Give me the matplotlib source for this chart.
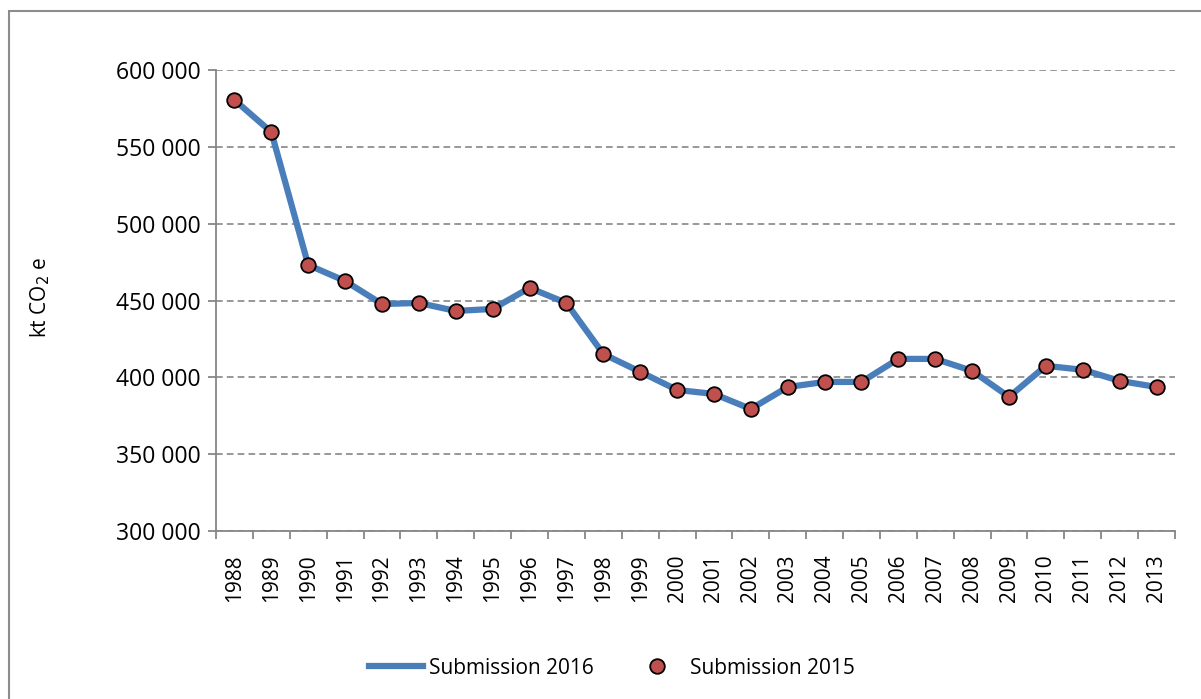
import numpy as np
import matplotlib.pyplot as plt
from matplotlib.patches import Rectangle
from matplotlib.lines import Line2D
from matplotlib.ticker import FuncFormatter

plt.rcParams['font.family'] = ['Open Sans', 'DejaVu Sans']

years = list(range(1988, 2014))
sub_2016 = [580500, 559600, 473100, 462700, 447700, 448400, 443200, 444500,
            458200, 448400, 415200, 403600, 391800, 389200, 379400, 393700,
            397000, 397000, 412000, 412000, 404200, 387300, 407500, 404900,
            397700, 393700]
sub_2015 = [580500, 559600, 473100, 462700, 447700, 448400, 443200, 444500,
            458200, 448400, 415200, 403600, 391800, 389200, 379400, 393700,
            397000, 397000, 412000, 412000, 404200, 387300, 407500, 404900,
            397700, 393700]

W, H = 1201, 699
fig = plt.figure(figsize=(W / 100, H / 100), dpi=100)
fig.patch.set_facecolor('white')

# outer chart frame (open at right and bottom edges)
fig.patches.append(Rectangle((9 / W, -0.1), 1.2, 1 - 11 / H + 0.1,
                             transform=fig.transFigure, fill=False,
                             edgecolor='#8c8c8c', linewidth=1.5))

ax = fig.add_axes([216 / W, 1 - 531 / H, (1175 - 216) / W, (531 - 70) / H])
x = np.arange(len(years))
ax.plot(x, sub_2016, color='#4a7ebb', linewidth=4.5, solid_joinstyle='round',
        zorder=3)
ax.plot(x, sub_2015, linestyle='none', marker='o', markersize=10.5,
        markerfacecolor='#c0504d', markeredgecolor='black',
        markeredgewidth=1.3, zorder=4)

ax.set_xlim(-0.5, len(years) - 0.5)
ax.set_ylim(300000, 600000)
ax.set_yticks(np.arange(300000, 600001, 50000))
ax.yaxis.set_major_formatter(FuncFormatter(lambda v, p: f'{int(v):,}'.replace(',', ' ')))
ax.set_xticks(x)
ax.set_xticklabels([str(y) for y in years], rotation=90, fontsize=15)
ax.set_xticks(np.arange(-0.5, len(years)), minor=True)
ax.tick_params(axis='x', which='major', length=0, pad=17)
ax.tick_params(axis='x', which='minor', length=6, color='#868686', width=1.3,
               direction='out')
ax.tick_params(axis='y', length=6, color='#868686', width=1.3, labelsize=16.5,
               pad=5)
ax.yaxis.grid(True, linestyle=(0, (4, 2.5)), color='#868686', linewidth=1.2)
ax.set_axisbelow(True)
for s in ['top', 'right']:
    ax.spines[s].set_visible(False)
for s in ['left', 'bottom']:
    ax.spines[s].set_color('#868686')
    ax.spines[s].set_linewidth(1.3)

fig.text(40 / W, 1 - 297 / H, 'kt CO$_2$ e', rotation=90, fontsize=15,
         ha='center', va='center')

handles = [Line2D([], [], color='#4a7ebb', linewidth=4.5),
           Line2D([], [], linestyle='none', marker='o', markersize=10.5,
                  markerfacecolor='#c0504d', markeredgecolor='black',
                  markeredgewidth=1.3)]
fig.legend(handles, ['Submission 2016', 'Submission 2015'], loc='center',
           bbox_to_anchor=(612 / W, 1 - 668 / H), ncol=2, frameon=False,
           fontsize=15, handlelength=2.6, columnspacing=1.7, handletextpad=0.3)

fig.savefig('out.png', dpi=100)
